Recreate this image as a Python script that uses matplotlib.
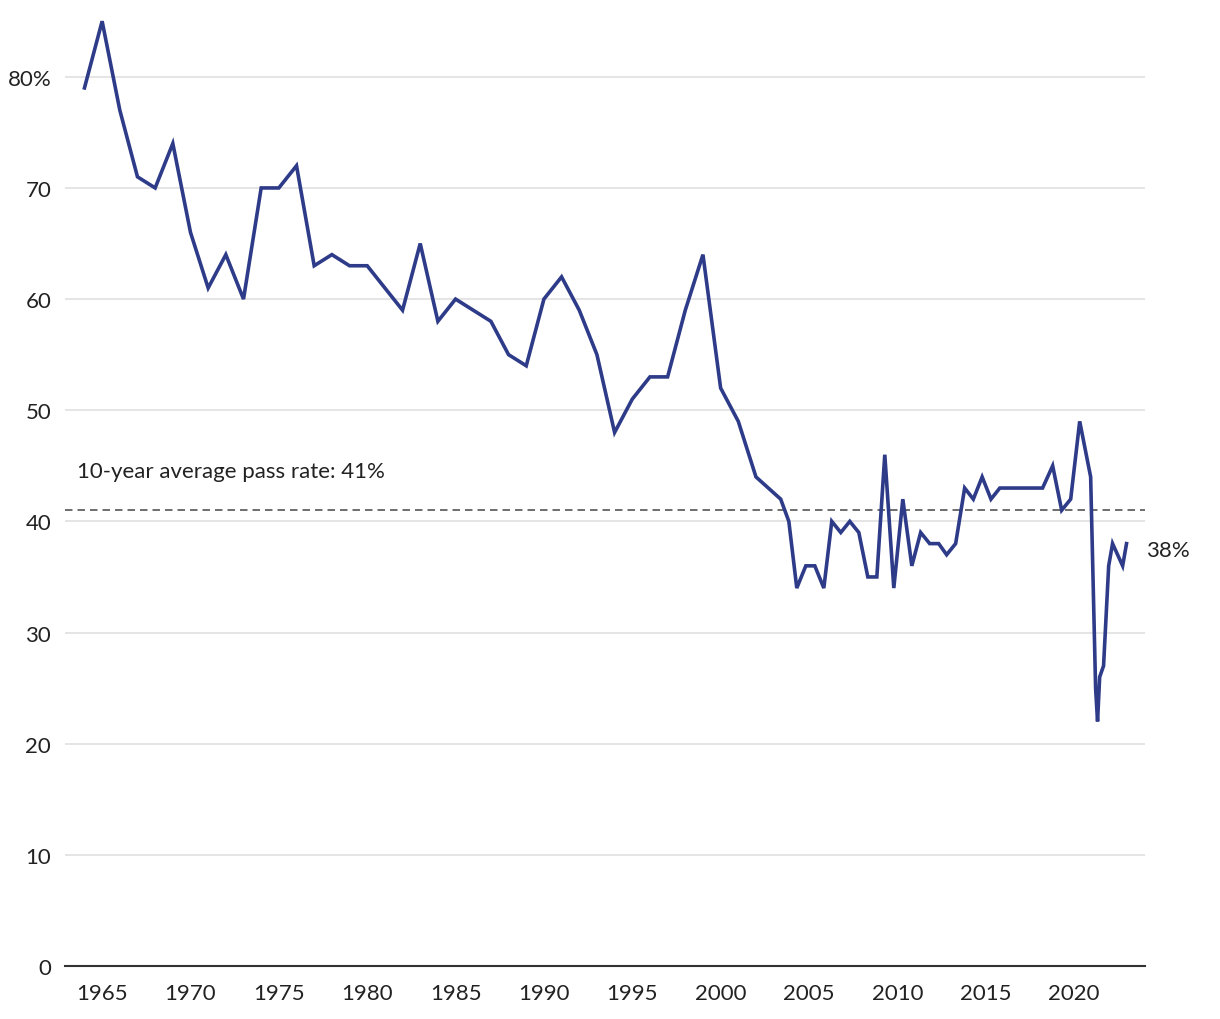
import matplotlib
matplotlib.use("Agg")
import matplotlib.pyplot as plt

# annual results up to 2002, then two exams a year (positions)
years = [1964, 1965, 1966, 1967, 1968, 1969, 1970, 1971, 1972, 1973,
         1974, 1975, 1976, 1977, 1978, 1979, 1980, 1981, 1982, 1983,
         1984, 1985, 1986, 1987, 1988, 1989, 1990, 1991, 1992, 1993,
         1994, 1995, 1996, 1997, 1998, 1999, 2000, 2001, 2002,
         2003.4, 2003.86, 2004.31, 2004.82, 2005.33, 2005.84, 2006.29, 2006.8,
         2007.31, 2007.82, 2008.33, 2008.84, 2009.29, 2009.8, 2010.31, 2010.82,
         2011.32, 2011.83, 2012.34, 2012.79, 2013.3, 2013.81, 2014.3, 2014.8,
         2015.3, 2015.8, 2016.3, 2016.8, 2017.3, 2017.8, 2018.22, 2018.79,
         2019.3, 2019.81, 2020.32, 2020.94, 2021.22, 2021.33, 2021.45, 2021.67,
         2021.96, 2022.18, 2022.75, 2022.97]
pass_rate = [79, 85, 77, 71, 70, 74, 66, 61, 64, 60,
             70, 70, 72, 63, 64, 63, 63, 61, 59, 65,
             58, 60, 59, 58, 55, 54, 60, 62, 59, 55,
             48, 51, 53, 53, 59, 64, 52, 49, 44,
             42, 40, 34, 36, 36, 34, 40, 39,
             40, 39, 35, 35, 46, 34, 42, 36,
             39, 38, 38, 37, 38, 43, 42, 44,
             42, 43, 43, 43, 43, 43, 43, 45,
             41, 42, 49, 44, 25, 22, 26, 27,
             36, 38, 36, 38]
avg_rate = 41
y_ticks = [0, 10, 20, 30, 40, 50, 60, 70, 80]
y_labels = ["0", "10", "20", "30", "40", "50", "60", "70", "80%"]
x_ticks = [1965, 1970, 1975, 1980, 1985, 1990, 1995, 2000, 2005, 2010, 2015, 2020]

plt.rcParams['font.family'] = ['Lato', 'DejaVu Sans']

fig = plt.figure(figsize=(12.2, 10.2), dpi=100)
ax = fig.add_axes([0.0533, 0.052, 0.885, 0.948])

line_color = '#2e3b88'
ax.plot(years, pass_rate, color=line_color, linewidth=2.6, solid_joinstyle='miter', zorder=3)
ax.axhline(avg_rate, color='#555555', linewidth=1.2, linestyle=(0, (4.5, 3)), zorder=2)

ax.text(1963.6, 44.5, "10-year average pass rate: 41%", fontsize=16, color='#222222',
        ha='left', va='center')
ax.text(2024.05, 37.4, "38%", fontsize=16, color='#222222', ha='left', va='center',
        clip_on=False)

ax.set_xlim(1962.9, 2024.0)
ax.set_ylim(0, 87)
ax.set_yticks(y_ticks)
ax.set_yticklabels(y_labels)
ax.set_xticks(x_ticks)
ax.tick_params(axis='both', length=0, labelsize=16, labelcolor='#222222')
ax.tick_params(axis='y', pad=10)
ax.tick_params(axis='x', pad=12)

ax.grid(axis='y', color='#e3e3e3', linewidth=1.3)
ax.set_axisbelow(True)
for side in ['top', 'right', 'left']:
    ax.spines[side].set_visible(False)
ax.spines['bottom'].set_color('#333333')
ax.spines['bottom'].set_linewidth(1.5)

fig.savefig('out.png', dpi=100)
